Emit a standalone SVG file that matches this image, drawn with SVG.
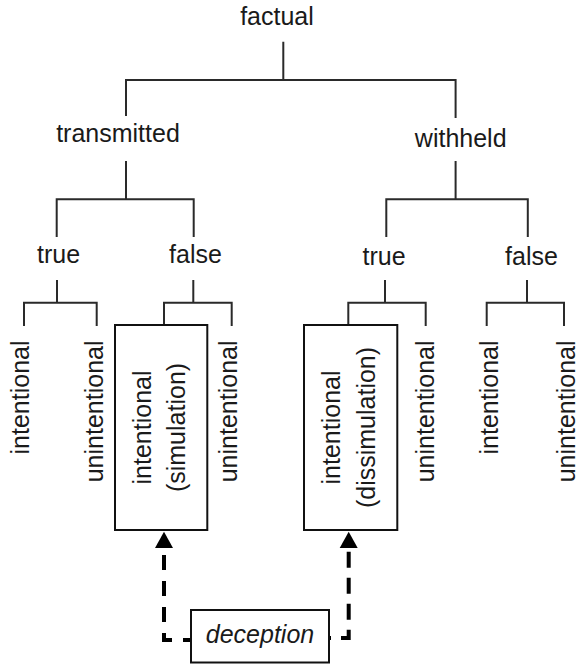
<svg xmlns="http://www.w3.org/2000/svg" width="579" height="666" viewBox="0 0 579 666">
  <style>
    .lbl { font-family: "Liberation Sans", Arial, sans-serif; font-size: 25px; fill: #1a1a1a; }
    .mid { text-anchor: middle; }
    .end { text-anchor: end; }
    .tree { fill: none; stroke: #2a2a2a; stroke-width: 2; }
    .box { fill: #fff; stroke: #111; stroke-width: 2; }
    .dash { fill: none; stroke: #000; stroke-width: 4; }
    .ital { font-style: italic; }
  </style>
  <defs>
    <marker id="arrow" markerUnits="userSpaceOnUse" markerWidth="20" markerHeight="20" refX="0" refY="0" orient="auto-start-reverse" overflow="visible">
      <path d="M0,-9 L16.3,0 L0,9 Z" fill="#000" stroke="none"/>
    </marker>
  </defs>
  <rect width="579" height="666" fill="#fff"/>

  <g id="connectors">
    <path class="tree" d="M283.3 41.7 V80 M126 116 V80 H455.6 V118"/>
    <path class="tree" d="M126 161 V199.3 M56.7 237 V199.3 H193.7 V237"/>
    <path class="tree" d="M455.6 161 V199.3 M386.3 237 V199.3 H527.8 V237"/>
    <path class="tree" d="M57 280 V302.7 M24 326 V302.7 H96.7 V326"/>
    <path class="tree" d="M193.3 280 V302.7 M164 325 V302.7 H231.7 V326"/>
    <path class="tree" d="M385 280 V302.7 M348.3 325 V302.7 H425.7 V326"/>
    <path class="tree" d="M527 280 V302.7 M486.7 326 V302.7 H564 V326"/>
    <path class="dash" d="M164 548 V640 H191" stroke-dasharray="15 11" stroke-dashoffset="19" marker-start="url(#arrow)"/>
    <path class="dash" d="M348.7 548 V638 H329" stroke-dasharray="16 10" stroke-dashoffset="22.3" marker-start="url(#arrow)"/>
  </g>

  <g id="factual"><text class="lbl mid" x="277" y="25">factual</text></g>
  <g id="transmitted"><text class="lbl mid" x="118" y="141.5">transmitted</text></g>
  <g id="withheld"><text class="lbl mid" x="460.7" y="146.5">withheld</text></g>
  <g id="transmitted-true"><text class="lbl mid" x="58.5" y="263">true</text></g>
  <g id="transmitted-false"><text class="lbl mid" x="195.5" y="263">false</text></g>
  <g id="withheld-true"><text class="lbl mid" x="384" y="265">true</text></g>
  <g id="withheld-false"><text class="lbl mid" x="531.5" y="265">false</text></g>

  <g id="tt-intentional"><text class="lbl end" transform="translate(28.5,340.5) rotate(-90)">intentional</text></g>
  <g id="tt-unintentional"><text class="lbl end" transform="translate(103,340.5) rotate(-90)">unintentional</text></g>
  <g id="simulation">
    <rect class="box" x="115" y="325" width="92.3" height="205"/>
    <text class="lbl mid" transform="translate(151,427.5) rotate(-90)">intentional</text>
    <text class="lbl mid" transform="translate(185,427.5) rotate(-90)">(simulation)</text>
  </g>
  <g id="tf-unintentional"><text class="lbl end" transform="translate(237,340.5) rotate(-90)">unintentional</text></g>
  <g id="dissimulation">
    <rect class="box" x="304" y="325" width="93.3" height="205"/>
    <text class="lbl mid" transform="translate(339.5,427.5) rotate(-90)">intentional</text>
    <text class="lbl mid" transform="translate(375,427.5) rotate(-90)">(dissimulation)</text>
  </g>
  <g id="wt-unintentional"><text class="lbl end" transform="translate(434,340.5) rotate(-90)">unintentional</text></g>
  <g id="wf-intentional"><text class="lbl end" transform="translate(498,340.5) rotate(-90)">intentional</text></g>
  <g id="wf-unintentional"><text class="lbl end" transform="translate(575,340.5) rotate(-90)">unintentional</text></g>

  <g id="deception">
    <rect class="box" x="191" y="610" width="138" height="52.5"/>
    <text class="lbl mid ital" x="260" y="642.5">deception</text>
  </g>
</svg>
